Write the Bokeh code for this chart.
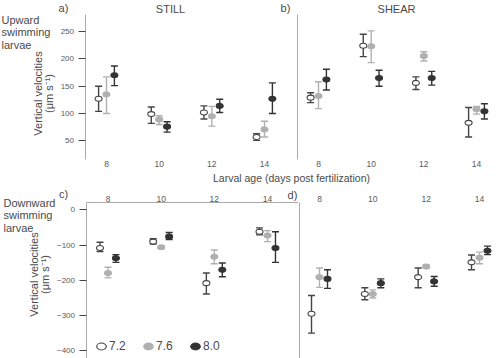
from bokeh.plotting import figure
from bokeh.models import (ColumnDataSource, Label, FixedTicker, Legend, LegendItem, Div, LinearAxis)
from bokeh.layouts import row, column
from bokeh.transform import dodge
from bokeh.embed import file_html
from bokeh.resources import INLINE
import math

# ---------------- data ----------------
days = [8, 10, 12, 14]
ph_labels = ["7.2", "7.6", "8.0"]

# a) STILL, upward
a72 = [127, 99, 102, 57];    a72_lo = [104, 82, 90, 51];     a72_hi = [150, 112, 114, 63]
a76 = [135, 89, 95, 71];     a76_lo = [100, 80, 77, 57];     a76_hi = [167, 96, 113, 86]
a80 = [170, 76, 114, 127];   a80_lo = [151, 66, 102, 100];   a80_hi = [187, 85, 126, 156]
# b) SHEAR, upward
b72 = [129, 224, 156, 83];   b72_lo = [120, 204, 144, 57];   b72_hi = [138, 245, 167, 111]
b76 = [132, 223, 205, 108];  b76_lo = [109, 193, 196, 99];   b76_hi = [158, 251, 213, 113]
b80 = [162, 165, 165, 104];  b80_lo = [143, 150, 152, 90];   b80_hi = [181, 179, 177, 118]
# c) STILL, downward
c72 = [-108, -90, -208, -62];   c72_lo = [-118, -97, -239, -71];   c72_hi = [-92, -82, -179, -51]
c76 = [-179, -106, -133, -73];  c76_lo = [-193, -110, -153, -90];  c76_hi = [-163, -102, -114, -59]
c80 = [-137, -76, -170, -108];  c80_lo = [-149, -84, -190, -149];  c80_hi = [-127, -64, -151, -62]
# d) SHEAR, downward
d72 = [-295, -239, -191, -149]; d72_lo = [-350, -255, -221, -170]; d72_hi = [-243, -221, -165, -128]
d76 = [-191, -239, -161, -136]; d76_lo = [-220, -250, -166, -153]; d76_hi = [-165, -227, -157, -120]
d80 = [-196, -208, -203, -116]; d80_lo = [-223, -221, -217, -127]; d80_hi = [-170, -196, -189, -103]

up_ticks = [50, 100, 150, 200, 250]
down_ticks = [0, -100, -200, -300, -400]
up_lim = (16, 281)
down_lim = (-422, 21)

FONT = "Liberation Sans"
TXT = "#4a4a4a"
TICK_TXT = "#5a5a5a"
AXIS_LINE = "#aaaaaa"

styles = [
    dict(fill="#ffffff", line="#444444", bar="#444444"),
    dict(fill="#b0b0b0", line="#b0b0b0", bar="#b0b0b0"),
    dict(fill="#333333", line="#333333", bar="#333333"),
]
offsets = [-0.3, 0.0, 0.3]

# ---------------- geometry (canvas px) ----------------
H_TOP = 172
H_DIV = 14
H_BOT = 172
W_A, W_B = 296, 204
W_C, W_D = 298, 202


def xrange_from(p8, p14, width):
    s = (14 - 8) / (p14 - p8)          # days per px
    return (8 - p8 * s, 8 + (width - p8) * s)


def yrange_from(vtop, ptop, vbot, pbot, height):
    s = (vbot - vtop) / (pbot - ptop)  # units per px (downward)
    return (vtop + (height - ptop) * s, vtop - ptop * s)


def x_at(xr, width, px):
    return xr[0] + (xr[1] - xr[0]) * px / width


def make_fig(width, height, xr, yr):
    p = figure(width=width, height=height, x_range=xr, y_range=yr,
               x_axis_location=None, y_axis_location=None,
               output_backend="svg", toolbar_location=None,
               min_border=0, min_border_left=0, min_border_right=0,
               min_border_top=0, min_border_bottom=0)
    p.outline_line_color = None
    p.xgrid.visible = False
    p.ygrid.visible = False
    p.background_fill_color = "white"
    p.border_fill_color = "white"
    return p


def add_xaxis(p, side, yloc, line=False, bounds="auto"):
    ax = LinearAxis(fixed_location=yloc, ticker=FixedTicker(ticks=days), bounds=bounds)
    ax.major_tick_line_color = None
    ax.major_tick_out = 0
    ax.major_tick_in = 0
    ax.minor_tick_line_color = None
    ax.minor_tick_out = 0
    ax.axis_line_color = AXIS_LINE if line else None
    ax.major_label_text_font = FONT
    ax.major_label_text_font_size = "8.5px"
    ax.major_label_text_color = TICK_TXT
    ax.major_label_standoff = 1
    p.add_layout(ax, side)


def add_yaxis(p, xloc, lim, ticks=None):
    ax = LinearAxis(fixed_location=xloc, bounds=lim,
                    ticker=FixedTicker(ticks=ticks if ticks else []))
    ax.axis_line_color = AXIS_LINE
    ax.major_tick_line_color = "#444444"
    ax.major_tick_out = 7
    ax.major_tick_in = 0
    ax.minor_tick_line_color = None
    ax.major_label_text_font = FONT
    ax.major_label_text_font_size = "8px"
    ax.major_label_text_color = TICK_TXT
    ax.major_label_standoff = 4
    p.add_layout(ax, "left")


def add_series(p, means, los, his):
    rends = []
    for i in range(3):
        src = ColumnDataSource(dict(day=days, mean=means[i], lo=los[i], hi=his[i]))
        st = styles[i]
        xd = dodge("day", offsets[i])
        p.segment(x0=xd, y0="lo", x1=xd, y1="hi", source=src,
                  line_color=st["bar"], line_width=1.4)
        p.scatter(x=xd, y="lo", source=src, marker="dash", size=7,
                  line_color=st["bar"], line_width=1.4)
        p.scatter(x=xd, y="hi", source=src, marker="dash", size=7,
                  line_color=st["bar"], line_width=1.4)
    for i in range(3):
        src = ColumnDataSource(dict(day=days, mean=means[i]))
        st = styles[i]
        xd = dodge("day", offsets[i])
        r = p.ellipse(x=xd, y="mean", width=7, height=5, width_units="screen",
                      height_units="screen", source=src, fill_color=st["fill"],
                      line_color=st["line"], line_width=1.1)
        rends.append(r)
    return rends


def add_label(p, fx0, fy0, fh, cx, cy, text, size=11, align="left", angle=0.0, color=TXT):
    p.add_layout(Label(x=cx - fx0, y=fh - (cy - fy0), x_units="screen", y_units="screen",
                       text=text, text_font=FONT, text_font_size=f"{size}px",
                       text_color=color, text_align=align, text_baseline="middle",
                       angle=angle))


# ranges so that the whole figure is the frame
xa = xrange_from(106, 264, W_A)
xb = xrange_from(22, 180, W_B)
xc = xrange_from(107.5, 267, W_C)
xd_ = xrange_from(21, 181, W_D)
ya = yrange_from(up_lim[1], 14, up_lim[0], 159, H_TOP)
yb = ya
BOT0 = H_TOP + H_DIV
yc = yrange_from(down_lim[1], 202 - BOT0, down_lim[0], 358 - BOT0, H_BOT)
yd = yc

pa = make_fig(W_A, H_TOP, xa, ya)
pb = make_fig(W_B, H_TOP, xb, yb)
pc = make_fig(W_C, H_BOT, xc, yc)
pd = make_fig(W_D, H_BOT, xd_, yd)

# axes
add_yaxis(pa, x_at(xa, W_A, 84.5), up_lim, up_ticks)
add_xaxis(pa, "below", up_lim[0])
add_yaxis(pb, x_at(xb, W_B, 0.5), up_lim)
add_xaxis(pb, "below", up_lim[0])
add_yaxis(pc, x_at(xc, W_C, 85.5), down_lim, down_ticks)
add_xaxis(pc, "above", down_lim[1], line=True, bounds=(x_at(xc, W_C, 85.5), xc[1]))
add_yaxis(pd, x_at(xd_, W_D, 0.5), down_lim)
add_xaxis(pd, "above", down_lim[1])

add_series(pa, [a72, a76, a80], [a72_lo, a76_lo, a80_lo], [a72_hi, a76_hi, a80_hi])
add_series(pb, [b72, b76, b80], [b72_lo, b76_lo, b80_lo], [b72_hi, b76_hi, b80_hi])
rc = add_series(pc, [c72, c76, c80], [c72_lo, c76_lo, c80_lo], [c72_hi, c76_hi, c80_hi])
add_series(pd, [d72, d76, d80], [d72_lo, d76_lo, d80_lo], [d72_hi, d76_hi, d80_hi])

# texts, top row
add_label(pa, 0, 0, H_TOP, 63, 7, "a)", align="center")
add_label(pa, 0, 0, H_TOP, 170, 8, "STILL", align="center")
add_label(pa, 0, 0, H_TOP, 285, 7, "b)", align="center")
add_label(pb, W_A, 0, H_TOP, 396, 8, "SHEAR", align="center")
for k, t in enumerate(["Upward", "swimming", "larvae"]):
    add_label(pa, 0, 0, H_TOP, 1, 19 + 12.5 * k, t)
add_label(pa, 0, 0, H_TOP, 37, 93, "Vertical velocities", angle=math.pi / 2, align="center")
add_label(pa, 0, 0, H_TOP, 48, 93, "(μm s⁻¹)", angle=math.pi / 2, align="center")

# texts, bottom row
add_label(pc, 0, BOT0, H_BOT, 63, 193, "c)", align="center")
add_label(pc, 0, BOT0, H_BOT, 292, 194, "d)", align="center")
for k, t in enumerate(["Downward", "swimming", "larvae"]):
    add_label(pc, 0, BOT0, H_BOT, 3, 202 + 12.5 * k, t)
add_label(pc, 0, BOT0, H_BOT, 33, 274, "Vertical velocities", angle=math.pi / 2, align="center")
add_label(pc, 0, BOT0, H_BOT, 44, 274, "(μm s⁻¹)", angle=math.pi / 2, align="center")

legend = Legend(items=[LegendItem(label=ph_labels[i], renderers=[rc[i]]) for i in range(3)],
                orientation="horizontal", location=(95, 5), glyph_width=12, glyph_height=12,
                label_height=12, label_width=20, label_standoff=2, spacing=13, padding=0,
                margin=0, border_line_color=None, background_fill_alpha=0,
                label_text_font=FONT, label_text_font_size="12px", label_text_color=TXT)
pc.add_layout(legend)

xlabel = Div(text='<span style="display:inline-block;margin-left:213px;white-space:nowrap;">'
                  'Larval age (days post fertilization)</span>',
             width=W_A + W_B, height=H_DIV,
             styles={"font-family": FONT, "font-size": "10.5px", "color": TXT,
                     "line-height": "12px", "margin": "0", "padding": "0"})

layout = column(row(pa, pb), xlabel, row(pc, pd))

open("out.html", "w").write(file_html(layout, INLINE))
